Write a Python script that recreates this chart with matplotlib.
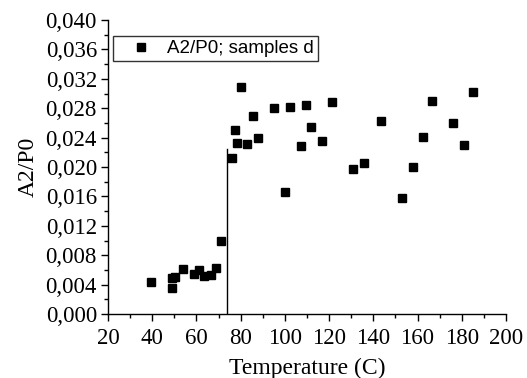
import matplotlib
matplotlib.use("Agg")
import matplotlib.pyplot as plt
import matplotlib.ticker as mticker

# A2/P0 vs temperature, samples d
temp = [39.4, 48.9, 49.1, 50.3, 53.9, 58.7, 61.3, 63.6, 66.4, 68.7, 71.0,
        75.9, 77.3, 78.5, 80.3, 83.0, 85.4, 87.8, 94.9, 99.9, 102.3, 107.1,
        109.5, 111.9, 116.8, 121.4, 130.8, 135.9, 143.5, 153.1, 158.1, 162.3,
        166.7, 176.0, 181.0, 185.2]
ratio = [0.0044, 0.0035, 0.0049, 0.0051, 0.0061, 0.0055, 0.0060, 0.0052, 0.0053,
         0.0063, 0.0100,
         0.0213, 0.0251, 0.0233, 0.0309, 0.0232, 0.0269, 0.0240, 0.0281, 0.0166,
         0.0282, 0.0229, 0.0285, 0.0255, 0.0236, 0.0289, 0.0197, 0.0206, 0.0263,
         0.0158, 0.0200, 0.0241, 0.0290, 0.0260, 0.0230, 0.0302]

# transition marker
trans_x = [73.9, 73.9]
trans_y = [0.0, 0.0224]

serif = ["Liberation Serif", "DejaVu Serif"]
sans = ["Liberation Sans", "DejaVu Sans"]

fig = plt.figure(figsize=(5.27, 3.78), dpi=100)
ax = fig.add_axes([0.205, 0.169, 0.755, 0.778])

ax.plot(temp, ratio, linestyle="none", marker="s", markersize=6,
        color="black", label="A2/P0; samples d")
ax.plot(trans_x, trans_y, color="black", linewidth=1.0)

ax.set_xlim(20, 200)
ax.set_ylim(0, 0.040)
ax.xaxis.set_major_locator(mticker.MultipleLocator(20))
ax.xaxis.set_minor_locator(mticker.MultipleLocator(10))
ax.yaxis.set_major_locator(mticker.MultipleLocator(0.004))
ax.yaxis.set_minor_locator(mticker.MultipleLocator(0.002))
ax.yaxis.set_major_formatter(mticker.FuncFormatter(
    lambda v, _: f"{v:.3f}".replace(".", ",")))

for s in ["top", "right"]:
    ax.spines[s].set_visible(False)
for s in ["left", "bottom"]:
    ax.spines[s].set_linewidth(1.0)

ax.tick_params(which="major", direction="out", length=5, width=1.0,
               labelsize=16.5)
ax.tick_params(axis="x", which="major", pad=5)
ax.tick_params(axis="y", which="major", pad=3)
ax.tick_params(which="minor", direction="out", length=3, width=1.0)
for lab in ax.get_xticklabels() + ax.get_yticklabels():
    lab.set_family(serif)

ax.set_xlabel("Temperature (C)", fontsize=17, family=serif, labelpad=6)
ax.set_ylabel("A2/P0", fontsize=17, family=serif, labelpad=5)

leg = ax.legend(loc="upper left", bbox_to_anchor=(0.012, 0.945),
                prop={"family": sans, "size": 13.5}, fancybox=False,
                frameon=True, edgecolor="black", handletextpad=0.13,
                borderpad=0.2, handlelength=2.58, borderaxespad=0)
leg.get_frame().set_linewidth(1.0)

fig.savefig("out.png", dpi=100)
